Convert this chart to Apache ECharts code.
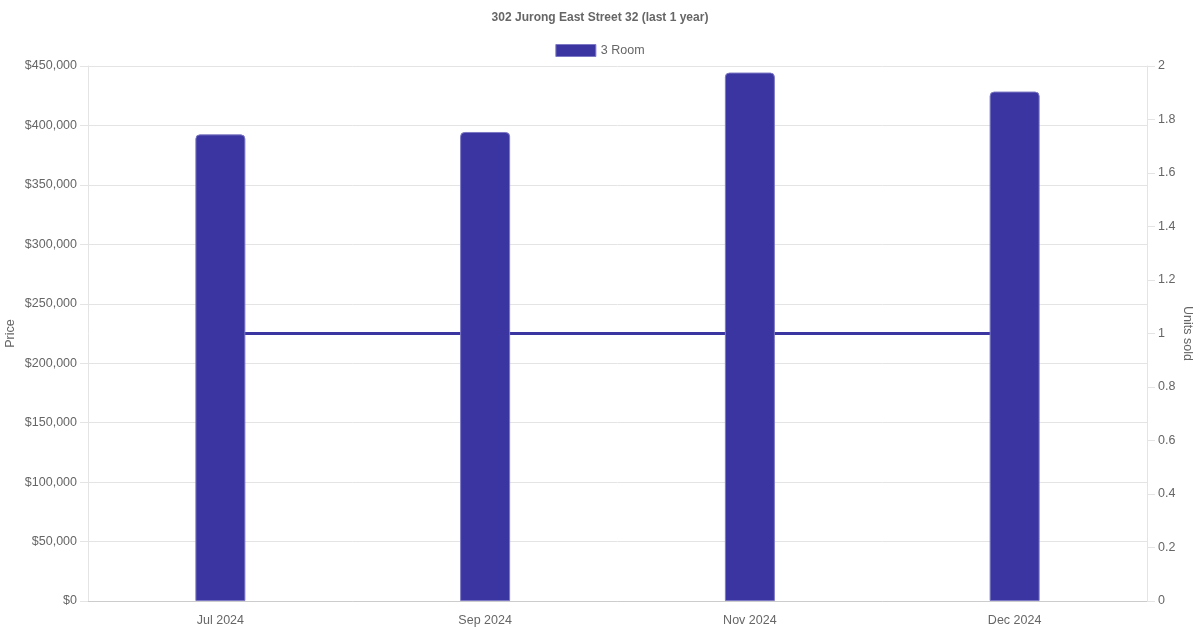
<!DOCTYPE html>
<html lang="en">
<head>
  <meta charset="UTF-8">
  <title>302 Jurong East Street 32</title>
  <script src="https://cdn.jsdelivr.net/npm/echarts@6/dist/echarts.min.js"></script>
  <style>
    html, body { margin: 0; padding: 0; background: #fff; }
    #main { width: 1200px; height: 630px; }
  </style>
</head>
<body>

<div id="main"></div>

<script>
  // data
  var months = ['Jul 2024', 'Sep 2024', 'Nov 2024', 'Dec 2024'];
  var prices = [392500, 394500, 444500, 428500];
  var unitsSold = [1, 1, 1, 1];

  var barColor = '#3a35a0';
  var txt = '#666';
  var font = 'Liberation Sans, Arial, sans-serif';

  var chart = echarts.init(document.getElementById('main'));
  chart.setOption({
    animation: false,
    textStyle: { fontFamily: font },
    title: {
      text: '302 Jurong East Street 32 (last 1 year)',
      left: 'center',
      top: 7,
      textStyle: { fontSize: 12, fontWeight: 'bold', color: txt, fontFamily: font }
    },
    legend: {
      top: 39,
      left: 'center',
      itemWidth: 40,
      itemHeight: 12,
      itemGap: 6,
      data: [{ name: '3 Room', icon: 'rect' }],
      itemStyle: { borderWidth: 1, borderColor: '#7d79c4' },
      textStyle: { fontSize: 12.5, color: txt, fontFamily: font }
    },
    grid: { left: 88, right: 53, top: 66, bottom: 29, containLabel: false, outerBoundsMode: 'none' },
    xAxis: {
      type: 'category',
      data: months,
      axisLine: { lineStyle: { color: '#ccc' } },
      axisTick: { show: false },
      axisLabel: { color: txt, fontSize: 12.5, margin: 13 },
      splitLine: { show: false }
    },
    yAxis: [{
      type: 'value',
      name: 'Price',
      nameLocation: 'middle',
      nameGap: 71,
      nameMoveOverlap: false,
      nameTextStyle: { color: txt, fontSize: 12.5 },
      min: 0,
      max: 450000,
      interval: 50000,
      axisLine: { show: true, lineStyle: { color: '#e4e4e4' } },
      axisTick: { show: true, length: 8, lineStyle: { color: '#e4e4e4' } },
      axisLabel: {
        color: txt, fontSize: 12.5, margin: 11,
        formatter: function (v) { return '$' + v.toLocaleString('en-US'); }
      },
      splitLine: { lineStyle: { color: '#e4e4e4' } }
    }, {
      type: 'value',
      name: 'Units sold',
      nameLocation: 'middle',
      nameGap: 34,
      nameMoveOverlap: false,
      nameRotate: -90,
      nameTextStyle: { color: txt, fontSize: 12.5 },
      min: 0,
      max: 2,
      interval: 0.2,
      axisLine: { show: true, lineStyle: { color: '#e4e4e4' } },
      axisTick: { show: true, length: 8, lineStyle: { color: '#e4e4e4' } },
      axisLabel: { color: txt, fontSize: 12.5, margin: 11 },
      splitLine: { show: false }
    }],
    series: [{
      name: 'Units sold',
      type: 'line',
      yAxisIndex: 1,
      data: unitsSold,
      symbol: 'none',
      z: 1,
      lineStyle: { color: barColor, width: 3 },
      itemStyle: { color: barColor }
    }, {
      name: '3 Room',
      type: 'bar',
      yAxisIndex: 0,
      data: prices,
      barWidth: 50,
      z: 2,
      itemStyle: {
        color: barColor,
        borderColor: '#7d79c4',
        borderWidth: 1,
        borderRadius: [4, 4, 0, 0]
      }
    }]
  });
</script>
</body>
</html>
